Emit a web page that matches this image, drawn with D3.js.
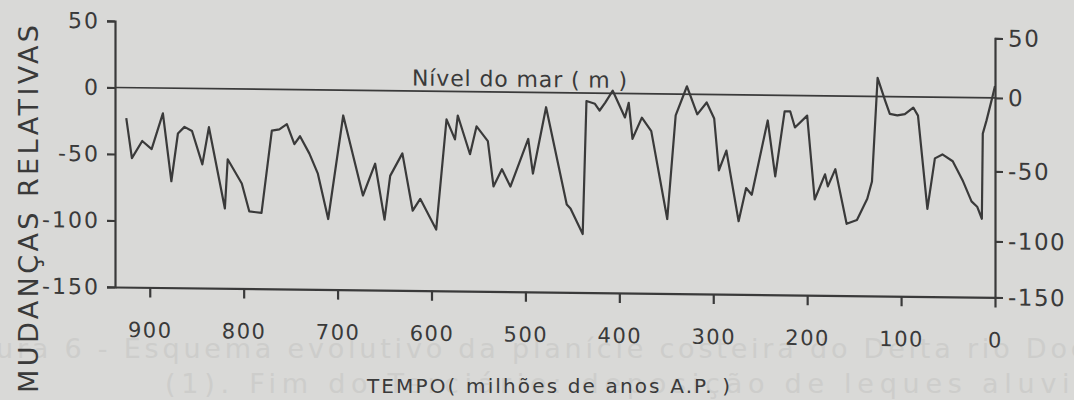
<!DOCTYPE html>
<html>
<head>
<meta charset="utf-8">
<script src="https://cdn.jsdelivr.net/npm/d3@7"></script>
<style>
  body { margin: 0; background: #d9d9d7; }
  svg { display: block; }
  text { font-family: "DejaVu Sans", sans-serif; fill: #3a3a3a; }
</style>
</head>
<body>
<div id="chart"></div>
<script>
// idade (milhoes de anos A.P.) e nivel relativo do mar (m)
const ages = [925,919,908,898,886,877,870,863,855,844,
  837,820,817,802,794,781,770,762,754,746,
  740,730,721,710,694,673,660,650,644,631,
  620,612,595,584,575,572,559,552,540,534,
  525,516,497,492,478,456,452,439,435,426,
  421,415,407,394,390,386,376,366,349,340,
  328,317,307,299,294,286,273,265,259,242,
  234,224,218,213,200,192,181,178,170,158,
  147,136,131,125,117,112,104,96,87,82,
  72,64,56,45,34,25,19,14,13,9,3,0];
const levels = [-23,-53,-40,-46,-19,-70,-34,-29,-32,-57,
  -29,-90,-53,-71,-92,-93,-31,-30,-26,-41,
  -35,-48,-63,-97,-19,-79,-55,-97,-64,-47,
  -90,-81,-104,-21,-36,-18,-47,-26,-37,-71,
  -58,-71,-35,-61,-11,-84,-87,-106,-6,-8,
  -13,-7,2,-18,-7,-34,-18,-28,-94,-16,
  6,-15,-6,-18,-57,-42,-95,-70,-75,-19,
  -61,-12,-12,-24,-15,-78,-59,-68,-55,-96,
  -93,-77,-64,14,-3,-13,-14,-13,-8,-14,
  -84,-46,-43,-48,-63,-78,-82,-91,-27,-17,0,9];

const xTicks = [900,800,700,600,500,400,300,200,100,0];
const yTicks = [50,0,-50,-100,-150];

const width = 1074, height = 400;
const ink = "#3a3a3a";
const skew = 0.0118; // a folha digitalizada esta levemente inclinada

const svg = d3.select("#chart").append("svg")
  .attr("width", width)
  .attr("height", height);

// texto do verso da pagina, que aparece por transparencia
svg.append("text")
  .attr("x", -4).attr("y", 358)
  .attr("textLength", 1110).attr("lengthAdjust", "spacing")
  .style("font-size", "27px").style("fill", "#cdcdcb")
  .text("ura 6 - Esquema evolutivo da planície costeira do Delta rio Doce");
svg.append("text")
  .attr("x", 165).attr("y", 393)
  .attr("textLength", 960).attr("lengthAdjust", "spacing")
  .style("font-size", "27px").style("fill", "#cdcdcb")
  .text("(1). Fim do Terciário: deposição de leques aluviais");

const x = d3.scaleLinear().domain([0, 937]).range([995, 115]);
const y = d3.scaleLinear().domain([-150, 50]).range([287, 21]);
// eixo direito desenhado a mao, com espacamento irregular
const yR = d3.scaleLinear()
  .domain([-150, -100, -50, 0, 50])
  .range([y(-150), 231, 161, y(0), 28]);

const g = svg.append("g")
  .attr("transform", `matrix(1,${skew},0,1,0,${-skew * 115})`);

// linha do nivel do mar
g.append("line")
  .attr("x1", x(937)).attr("x2", x(0))
  .attr("y1", y(0)).attr("y2", y(0))
  .attr("stroke", ink).attr("stroke-width", 1.6);

const leftAxis = g.append("g")
  .attr("transform", `translate(${x(937)},0)`)
  .call(d3.axisLeft(y).tickValues(yTicks).tickSize(8).tickPadding(7)
    .tickFormat(d => String(d)));
leftAxis.selectAll("text").style("font-size", "22px").attr("letter-spacing", "2px");

const rightAxis = g.append("g")
  .attr("transform", `translate(${x(0)},0)`)
  .call(d3.axisRight(yR).tickValues(yTicks).tickSize(8).tickPadding(5)
    .tickFormat(d => String(d)));
rightAxis.selectAll("text").style("font-size", "23px").attr("letter-spacing", "1.5px");

const bottomAxis = g.append("g")
  .attr("transform", `translate(0,${y(-150)})`)
  .call(d3.axisBottom(x).tickValues(xTicks).tickSize(10).tickSizeOuter(0).tickPadding(25)
    .tickFormat(d => String(d)));
bottomAxis.selectAll("text").style("font-size", "21px").attr("letter-spacing", "1.5px");

[leftAxis, rightAxis, bottomAxis].forEach(a => {
  a.selectAll("path, line").attr("stroke", ink).attr("stroke-width", 2.2);
  a.selectAll("text").style("fill", ink);
});

const line = d3.line()
  .x((d, i) => x(ages[i]))
  .y(d => y(d));

g.append("path")
  .datum(levels)
  .attr("d", line)
  .attr("fill", "none")
  .attr("stroke", ink)
  .attr("stroke-width", 2.2)
  .attr("stroke-linejoin", "round");

g.append("text")
  .attr("x", 412).attr("y", 82)
  .attr("textLength", 215).attr("lengthAdjust", "spacing")
  .style("font-size", "22px")
  .text("Nível do mar ( m )");

svg.append("text")
  .attr("x", 367).attr("y", 393)
  .attr("textLength", 363).attr("lengthAdjust", "spacing")
  .style("font-size", "20px")
  .text("TEMPO( milhões de anos A.P. )");

svg.append("text")
  .attr("transform", "translate(38,209) rotate(-90)")
  .attr("text-anchor", "middle")
  .attr("textLength", 368).attr("lengthAdjust", "spacing")
  .style("font-size", "27px")
  .text("MUDANÇAS RELATIVAS");
</script>
</body>
</html>
